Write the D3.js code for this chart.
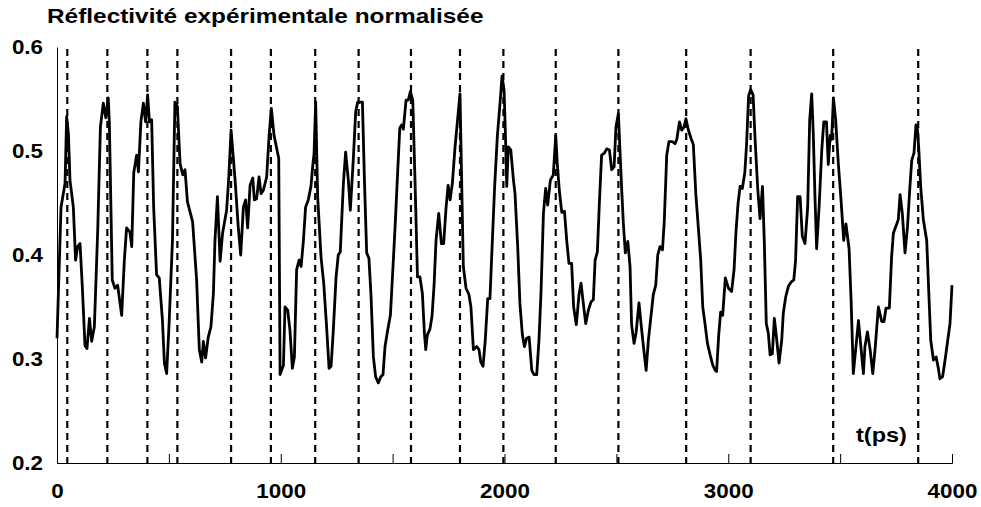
<html lang="fr">
<head>
<meta charset="utf-8">
<style>
	body { margin: 0; background: #fff; }
	text { font-family: "Liberation Sans", Arial, sans-serif; font-weight: bold; fill: #000; }
</style>
</head>
<body>
<svg width="981" height="507"></svg>
<script type='text/javascript' src='https://d3js.org/d3.v7.min.js'></script>
<script>
	// temps (ps) et réflectivité
	var times = [
		0, 18, 36, 43, 51, 58, 73, 83, 92, 103,
		113, 125, 134, 145, 155, 167, 182, 194, 207, 218,
		229, 234, 247, 259, 271, 289, 301, 311, 326, 334,
		343, 356, 364, 375, 386, 396, 405, 413, 423, 432,
		445, 457, 471, 480, 490, 501, 516, 527, 538, 550,
		562, 572, 583, 606, 624, 636, 647, 654, 664, 676,
		688, 699, 706, 717, 729, 740, 758, 767, 778, 796,
		810, 821, 833, 843, 852, 863, 875, 882, 892, 903,
		912, 922, 937, 948, 958, 970, 991, 997, 1012, 1019,
		1031, 1041, 1052, 1061, 1071, 1082, 1091, 1101, 1111, 1123,
		1135, 1144, 1149, 1156, 1165, 1180, 1192, 1204, 1216, 1225,
		1235, 1247, 1257, 1266, 1280, 1290, 1302, 1311, 1324, 1335,
		1344, 1365, 1374, 1384, 1394, 1403, 1414, 1424, 1436, 1447,
		1457, 1466, 1478, 1490, 1500, 1511, 1523, 1532, 1540, 1548,
		1560, 1570, 1579, 1590, 1600, 1611, 1622, 1633, 1642, 1648,
		1655, 1667, 1676, 1685, 1694, 1706, 1718, 1728, 1739, 1748,
		1757, 1767, 1779, 1789, 1801, 1816, 1828, 1841, 1850, 1861,
		1876, 1886, 1894, 1904, 1914, 1925, 1935, 1944, 1956, 1968,
		1980, 1989, 1998, 2004, 2010, 2017, 2028, 2040, 2047, 2059,
		2069, 2080, 2089, 2099, 2110, 2122, 2132, 2144, 2154, 2163,
		2174, 2184, 2193, 2205, 2218, 2229, 2236, 2245, 2256, 2268,
		2278, 2288, 2300, 2309, 2321, 2333, 2342, 2352, 2363, 2375,
		2387, 2397, 2405, 2415, 2424, 2434, 2446, 2457, 2469, 2479,
		2490, 2498, 2509, 2516, 2524, 2531, 2540, 2551, 2561, 2568,
		2579, 2588, 2601, 2613, 2624, 2633, 2643, 2653, 2665, 2676,
		2685, 2695, 2706, 2714, 2725, 2735, 2750, 2762, 2770, 2782,
		2792, 2802, 2811, 2822, 2834, 2844, 2855, 2866, 2877, 2886,
		2896, 2907, 2919, 2931, 2942, 2948, 2957, 2966, 2975, 2987,
		3001, 3015, 3026, 3035, 3044, 3053, 3063, 3074, 3082, 3091,
		3100, 3111, 3120, 3132, 3142, 3153, 3161, 3170, 3179, 3187,
		3197, 3206, 3217, 3227, 3239, 3246, 3257, 3269, 3281, 3293,
		3301, 3310, 3321, 3331, 3343, 3355, 3364, 3373, 3380, 3388,
		3395, 3406, 3418, 3427, 3439, 3447, 3456, 3462, 3470, 3480,
		3492, 3504, 3516, 3526, 3540, 3549, 3559, 3582, 3604, 3611,
		3622, 3634, 3646, 3656, 3671, 3686, 3696, 3705, 3720, 3730,
		3738, 3748, 3760, 3768, 3778, 3790, 3801, 3812, 3820, 3830,
		3839, 3845, 3851, 3860, 3872, 3887, 3894, 3905, 3917, 3929,
		3939, 3946, 3958, 3969, 3981, 3991, 4000
	];
	var reflect = [
		.320, .446, .469, .533, .517, .472, .446, .395, .408, .411,
		.370, .313, .310, .339, .317, .331, .424, .523, .546, .532,
		.551, .527, .376, .368, .371, .342, .395, .426, .422, .408,
		.479, .496, .480, .528, .546, .528, .554, .528, .530, .446,
		.381, .378, .338, .296, .286, .334, .414, .547, .543, .488,
		.477, .482, .451, .432, .376, .309, .297, .317, .301, .321,
		.331, .363, .414, .456, .394, .421, .443, .472, .520, .472,
		.427, .400, .446, .453, .426, .467, .474, .453, .454, .475,
		.459, .462, .475, .515, .541, .515, .493, .285, .294, .350,
		.347, .328, .291, .302, .386, .395, .389, .413, .446, .453,
		.466, .488, .498, .547, .456, .398, .373, .334, .291, .293,
		.328, .378, .400, .403, .469, .499, .472, .443, .491, .538,
		.547, .547, .472, .402, .397, .363, .302, .283, .277, .283,
		.285, .312, .328, .342, .382, .427, .482, .522, .525, .521,
		.549, .549, .557, .549, .472, .379, .379, .363, .325, .309,
		.323, .329, .341, .370, .414, .440, .411, .411, .446, .467,
		.453, .469, .504, .527, .555, .389, .368, .362, .350, .309,
		.312, .309, .297, .293, .318, .358, .358, .405, .466, .514,
		.546, .572, .559, .517, .466, .504, .501, .472, .459, .408,
		.353, .323, .312, .320, .321, .289, .285, .285, .318, .363,
		.440, .464, .448, .472, .477, .515, .488, .462, .441, .442,
		.414, .392, .392, .350, .333, .362, .373, .354, .334, .347,
		.355, .357, .395, .403, .450, .496, .498, .502, .501, .482,
		.485, .523, .536, .501, .462, .431, .402, .413, .389, .333,
		.315, .325, .354, .328, .306, .289, .318, .338, .362, .371,
		.400, .408, .405, .432, .496, .509, .509, .507, .511, .528,
		.520, .523, .531, .520, .512, .506, .459, .427, .395, .350,
		.334, .315, .304, .294, .289, .288, .322, .345, .342, .378,
		.368, .365, .386, .424, .450, .466, .464, .479, .507, .553,
		.559, .554, .511, .463, .435, .466, .414, .334, .325, .304,
		.305, .339, .318, .296, .318, .344, .360, .370, .374, .376,
		.395, .456, .456, .418, .411, .446, .530, .555, .517, .453,
		.406, .446, .501, .528, .528, .487, .515, .511, .551, .530,
		.488, .453, .414, .430, .406, .357, .286, .337, .286, .312,
		.326, .309, .286, .309, .350, .336, .336, .349, .349, .398,
		.421, .427, .434, .458, .440, .402, .427, .466, .491, .498,
		.525, .522, .504, .466, .434, .414, .376, .318, .299, .302,
		.291, .281, .283, .299, .318, .334, .371
	];
	// positions des traits pointillés (ps)
	var pulses = [46, 225, 404, 538, 778, 956, 1154, 1348, 1582, 1801, 1995, 2229, 2509, 2812, 3100, 3469, 3849];
	var xTicks = [0, 500, 1000, 1500, 2000, 2500, 3000, 3500, 4000];
	var yTicks = [0.2, 0.3, 0.4, 0.5, 0.6];

	var svg = d3.select("svg");
	var x = d3.scaleLinear().domain([0, 4000]).range([57, 952]);
	var y = d3.scaleLinear().domain([0.2, 0.6]).range([463, 47]);
	var stretch = 1.12; // police élargie comme sur l'original

	svg.append("text")
		.attr("transform", "translate(47,23) scale(1.22,1)")
		.attr("font-size", "20px")
		.text("Réflectivité expérimentale normalisée");

	// pointillés
	svg.selectAll(".pulse")
		.data(pulses)
		.enter().append("line")
		.attr("class", "pulse")
		.attr("x1", function(d) { return x(d); })
		.attr("x2", function(d) { return x(d); })
		.attr("y1", y(0.6) + 2)
		.attr("y2", y(0.2))
		.attr("stroke", "#000")
		.attr("stroke-width", 2.2)
		.attr("stroke-dasharray", "7,5");

	// axe x, graduations vers le haut
	var gx = svg.append("g")
		.attr("transform", "translate(0," + y(0.2) + ")")
		.call(d3.axisBottom(x)
			.tickValues(xTicks)
			.tickSize(-9)
			.tickSizeOuter(-9)
			.tickPadding(21)
			.tickFormat(function(d) { return d % 1000 == 0 ? d : ""; }));
	gx.selectAll("path, line").attr("stroke", "#000");
	gx.selectAll("text")
		.attr("font-size", "20px")
		.attr("font-family", null)
		.attr("transform", "scale(" + stretch + ",1)");

	var gy = svg.append("g")
		.attr("transform", "translate(" + x(0) + ",0)")
		.call(d3.axisLeft(y)
			.tickValues(yTicks)
			.tickSize(0)
			.tickSizeOuter(0)
			.tickPadding(12.5)
			.tickFormat(d3.format(".1f")));
	gy.select(".domain").attr("stroke", "#000");
	gy.selectAll("text")
		.attr("font-size", "20px")
		.attr("font-family", null)
		.attr("transform", "scale(" + stretch + ",1)");

	svg.append("text")
		.attr("transform", "translate(856,442) scale(" + stretch + ",1)")
		.attr("font-size", "21px")
		.text("t(ps)");

	var line = d3.line()
		.x(function(d, i) { return x(times[i]); })
		.y(function(d) { return y(d); });

	svg.append("path")
		.datum(reflect)
		.attr("fill", "none")
		.attr("stroke", "#000")
		.attr("stroke-width", 2.8)
		.attr("stroke-linejoin", "round")
		.attr("d", line);
</script>
</body>
</html>
